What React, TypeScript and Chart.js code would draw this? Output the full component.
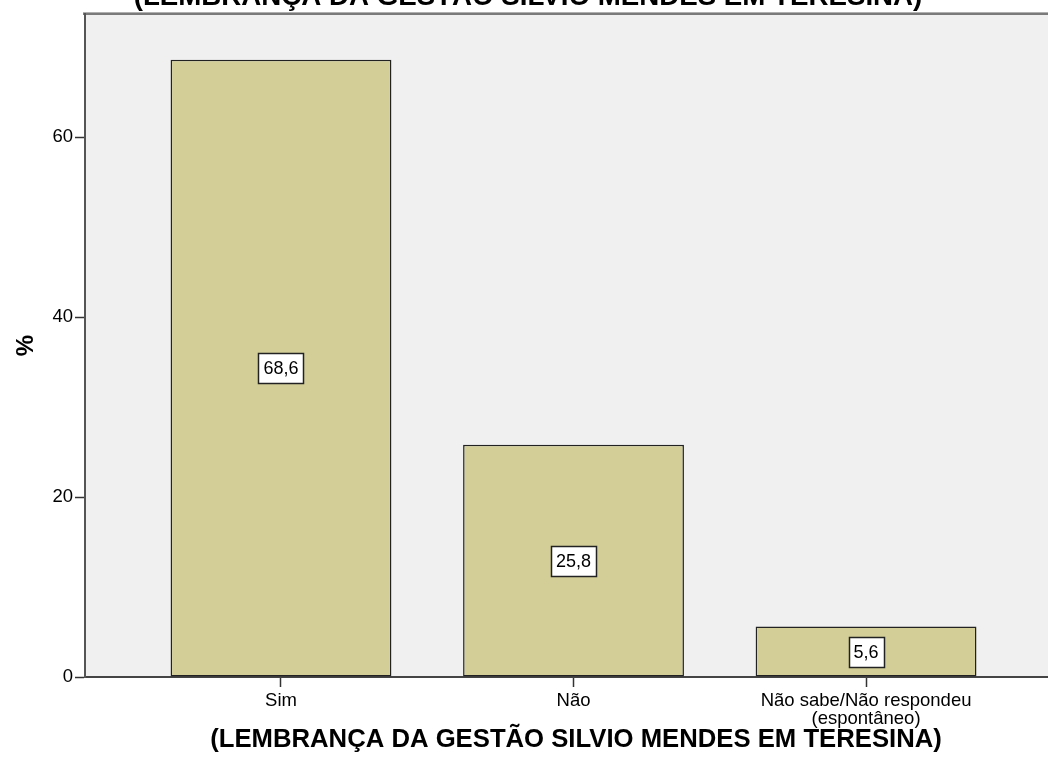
import React, { useEffect, useRef } from 'react';
import { Chart, registerables } from 'chart.js';

Chart.register(...registerables);

const categories = ['Sim', 'Não', 'Não sabe/Não respondeu (espontâneo)'];
const categoryLabelLines = [['Sim'], ['Não'], ['Não sabe/Não respondeu', '(espontâneo)']];
const percentages = [68.6, 25.8, 5.6];
const yTickValues = [0, 20, 40, 60];
const chartTitle = '(LEMBRANÇA DA GESTÃO SILVIO MENDES EM TERESINA)';
const xAxisTitle = '(LEMBRANÇA DA GESTÃO SILVIO MENDES EM TERESINA)';
const yAxisTitle = '%';

const FONT = '"Liberation Sans", Arial, Helvetica, sans-serif';

const backgroundPlugin = {
  id: 'plotBackground',
  beforeDraw(chart: any) {
    const { ctx, chartArea: a } = chart;
    ctx.save();
    ctx.fillStyle = '#f0f0f0';
    ctx.fillRect(a.left, a.top, a.right - a.left, a.bottom - a.top);
    ctx.fillStyle = '#b0b0b0';
    ctx.fillRect(a.left - 2, a.top - 2, a.right - a.left + 2, 1);
    ctx.fillStyle = '#7a7a7a';
    ctx.fillRect(a.left - 2, a.top - 1, a.right - a.left + 2, 2);
    ctx.restore();
  },
};

const labelsPlugin = {
  id: 'barValueBoxes',
  afterDatasetsDraw(chart: any) {
    const { ctx } = chart;
    const meta = chart.getDatasetMeta(0);
    ctx.save();
    ctx.font = `18px ${FONT}`;
    ctx.textAlign = 'center';
    ctx.textBaseline = 'middle';
    meta.data.forEach((bar: any, i: number) => {
      const { x, y, base } = bar.getProps(['x', 'y', 'base'], true);
      const cy = (y + base) / 2;
      const text = percentages[i].toFixed(1).replace('.', ',');
      const w = Math.round(ctx.measureText(text).width + 10);
      const h = 30;
      const bx = Math.round(x - w / 2) + 0.5;
      const by = Math.round(cy - h / 2) + 0.5;
      ctx.fillStyle = '#ffffff';
      ctx.fillRect(bx, by, w, h);
      ctx.strokeStyle = '#222222';
      ctx.lineWidth = 1.5;
      ctx.strokeRect(bx, by, w, h);
      ctx.fillStyle = '#000000';
      ctx.fillText(text, x, cy + 1);
    });
    ctx.restore();
  },
};

const titlesPlugin = {
  id: 'titleTexts',
  afterDraw(chart: any) {
    const { ctx } = chart;
    ctx.save();
    ctx.fillStyle = '#000000';
    ctx.textAlign = 'center';
    ctx.textBaseline = 'alphabetic';
    ctx.font = `bold 27.7px ${FONT}`;
    ctx.fillText(chartTitle, 528, 5);
    ctx.font = `bold 25.7px ${FONT}`;
    ctx.textBaseline = 'middle';
    ctx.fillText(xAxisTitle, 576, 740);
    ctx.restore();
  },
};

export default function App() {
  const canvasRef = useRef<HTMLCanvasElement | null>(null);

  useEffect(() => {
    if (!canvasRef.current) return;
    const positions = categories.map((_, i) => i + 1);
    const chart = new Chart(canvasRef.current, {
      type: 'bar',
      data: {
        datasets: [
          {
            label: yAxisTitle,
            data: positions.map((p, i) => ({ x: p, y: percentages[i] })),
            backgroundColor: '#d3ce98',
            borderColor: '#222222',
            borderWidth: 1.5,
            borderSkipped: false,
            categoryPercentage: 1,
            barPercentage: 0.755,
          },
        ],
      },
      options: {
        responsive: false,
        animation: false,
        layout: { padding: { top: 14, left: 0, right: 0, bottom: 0 } },
        plugins: {
          legend: { display: false },
          tooltip: { enabled: false },
          title: { display: false },
        },
        scales: {
          x: {
            type: 'linear',
            offset: false,
            min: 0.33,
            max: 3.622,
            afterFit(scale: any) {
              scale.height = 95;
            },
            afterBuildTicks(scale: any) {
              scale.ticks = positions.map((v) => ({ value: v }));
            },
            ticks: {
              autoSkip: false,
              maxRotation: 0,
              padding: 4,
              color: '#000000',
              font: { family: FONT, size: 18.5, lineHeight: 1.02 },
              callback: (v: any) => {
                const idx = Math.round(Number(v)) - 1;
                return categoryLabelLines[idx] ?? '';
              },
            },
            grid: {
              offset: false,
              drawOnChartArea: false,
              drawTicks: true,
              tickLength: 10,
              tickWidth: 1.5,
              tickColor: '#333333',
            },
            border: { display: true, color: '#444444', width: 2 },
          },
          y: {
            type: 'linear',
            min: 0,
            max: 73.67,
            afterFit(scale: any) {
              scale.width = 85;
            },
            afterBuildTicks(scale: any) {
              scale.ticks = yTickValues.map((v) => ({ value: v }));
            },
            ticks: {
              padding: 2,
              color: '#000000',
              font: { family: FONT, size: 18.5 },
            },
            grid: {
              drawOnChartArea: false,
              drawTicks: true,
              tickLength: 10,
              tickWidth: 1.5,
              tickColor: '#333333',
            },
            border: { display: true, color: '#555555', width: 2 },
            title: {
              display: true,
              text: yAxisTitle,
              color: '#000000',
              font: { family: FONT, size: 24, weight: 'bold' },
              padding: { top: 12, bottom: 0 },
            },
          },
        },
      },
      plugins: [backgroundPlugin, labelsPlugin, titlesPlugin],
    } as any);
    return () => chart.destroy();
  }, []);

  return (
    <div style={{ position: 'fixed', left: 0, top: 0, width: 1048, height: 772, background: '#ffffff' }}>
      <canvas ref={canvasRef} width={1048} height={772} style={{ display: 'block' }} />
    </div>
  );
}
